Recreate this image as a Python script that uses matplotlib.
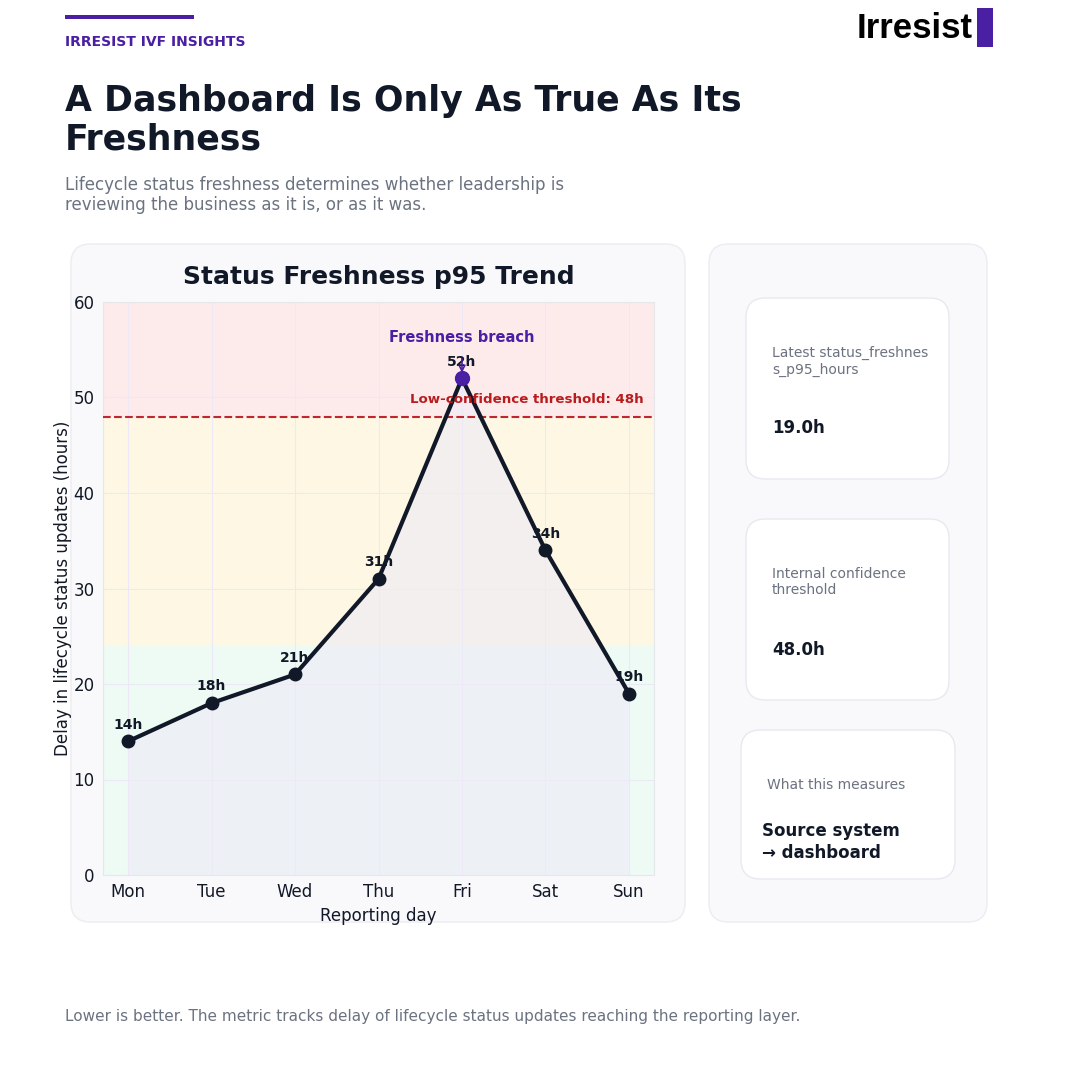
import matplotlib
matplotlib.use("Agg")
import matplotlib.pyplot as plt
from matplotlib.patches import FancyBboxPatch, Rectangle

days = ["Mon", "Tue", "Wed", "Thu", "Fri", "Sat", "Sun"]
hours = [14, 18, 21, 31, 52, 34, 19]
threshold = 48
band_edges = [0, 24, 48, 60]
band_colors = ["#edfbf4", "#fdf7e4", "#fdebec"]

PURPLE = "#4a1fa3"
DARK = "#111827"
GRAY = "#6b7280"

plt.rcParams["font.family"] = ["DejaVu Sans"]

fig = plt.figure(figsize=(10.8, 10.8), dpi=100)
fig.patch.set_facecolor("white")


def px(x, y):
    return x / 1080, 1 - y / 1080


def card(x0, y0, x1, y1, fc, ec, z, r=0.018):
    (a, b), (c, d) = px(x0, y1), px(x1, y0)
    p = FancyBboxPatch((a, b), c - a, d - b, boxstyle=f"round,pad=0,rounding_size={r}",
                       transform=fig.transFigure, fc=fc, ec=ec, lw=1.0, zorder=z)
    fig.patches.append(p)


# header
fig.patches.append(Rectangle(px(65, 19), 129 / 1080, 4 / 1080, transform=fig.transFigure,
                             fc=PURPLE, ec="none"))
fig.text(*px(65, 42), "IRRESIST IVF INSIGHTS", color=PURPLE, fontsize=10,
         fontweight="bold", va="center")
fig.text(*px(973, 28), "Irresist", color="black", fontsize=25, fontweight="bold",
         ha="right", va="center", family="Liberation Sans")
fig.patches.append(Rectangle(px(977, 47), 16 / 1080, 39 / 1080, transform=fig.transFigure,
                             fc=PURPLE, ec="none"))
fig.text(*px(65, 120), "A Dashboard Is Only As True As Its\nFreshness", color=DARK,
         fontsize=25, fontweight="bold", va="center", linespacing=1.15)
fig.text(*px(65, 195), "Lifecycle status freshness determines whether leadership is\n"
         "reviewing the business as it is, or as it was.", color=GRAY, fontsize=12,
         va="center", linespacing=1.1)
fig.text(*px(65, 1016), "Lower is better. The metric tracks delay of lifecycle status updates "
         "reaching the reporting layer.", color=GRAY, fontsize=11, va="center")

# cards
card(71, 244, 685, 922, "#f9f9fb", "#ececf2", -3)
card(709, 244, 987, 922, "#f9f9fb", "#ececf2", -3)
card(746, 298, 949, 479, "white", "#e8e8f0", -2)
card(746, 519, 949, 700, "white", "#e8e8f0", -2)
card(741, 730, 955, 879, "white", "#e8e8f0", -2)

fig.text(*px(772, 361), "Latest status_freshnes\ns_p95_hours", color=GRAY, fontsize=10,
         va="center", linespacing=1.25)
fig.text(*px(772, 428), "19.0h", color=DARK, fontsize=12, fontweight="bold", va="center")
fig.text(*px(772, 582), "Internal confidence\nthreshold", color=GRAY, fontsize=10,
         va="center", linespacing=1.25)
fig.text(*px(772, 650), "48.0h", color=DARK, fontsize=12, fontweight="bold", va="center")
fig.text(*px(767, 785), "What this measures", color=GRAY, fontsize=10, va="center")
fig.text(*px(762, 842), "Source system\n\u2192 dashboard", color=DARK, fontsize=12,
         fontweight="bold", va="center", linespacing=1.3)

# chart
ax = fig.add_axes([103 / 1080, 1 - 875 / 1080, 551 / 1080, 573 / 1080])
ax.set_facecolor("none")
x = list(range(len(days)))
ax.set_xlim(-0.3, len(days) - 0.7)
ax.set_ylim(0, 60)
for lo, hi, c in zip(band_edges[:-1], band_edges[1:], band_colors):
    ax.axhspan(lo, hi, color=c, zorder=0, lw=0)
ax.grid(True, color="#ece8f6", lw=0.8, zorder=1)
ax.set_axisbelow(True)
ax.fill_between(x, hours, 0, color="#eeebf8", alpha=0.6, zorder=2, lw=0)
ax.axhline(threshold, color="#c0262d", ls="--", lw=1.5, zorder=3)
ax.plot(x, hours, color=DARK, lw=3, marker="o", ms=9, zorder=4)
peak = hours.index(max(hours))
ax.plot(x[peak], hours[peak], "o", color=PURPLE, ms=10, zorder=5)
for xi, h in zip(x, hours):
    ax.annotate(f"{h}h", (xi, h), xytext=(0, 7), textcoords="offset points",
                ha="center", va="bottom", fontsize=10, fontweight="bold", color=DARK,
                zorder=6)
ax.annotate("Freshness breach", (x[peak], hours[peak]), xytext=(x[peak], 56.3),
            ha="center", va="center", fontsize=10.5, fontweight="bold", color=PURPLE,
            arrowprops=dict(arrowstyle="->", color=PURPLE, lw=1.2,
                            shrinkA=8, shrinkB=4), zorder=6)
ax.text(6.18, threshold + 1.1, f"Low-confidence threshold: {threshold}h", ha="right",
        va="bottom", fontsize=9.6, fontweight="bold", color="#b91c1c", zorder=6)

ax.set_xticks(x)
ax.set_xticklabels(days)
ax.tick_params(labelsize=12, colors=DARK, length=0, pad=6)
for s in ax.spines.values():
    s.set_color("#e5e7eb")
ax.set_xlabel("Reporting day", fontsize=12, color=DARK, labelpad=4)
ax.set_ylabel("Delay in lifecycle status updates (hours)", fontsize=12, color=DARK,
              labelpad=1)
ax.set_title("Status Freshness p95 Trend", fontsize=18, fontweight="bold", color=DARK,
             pad=13)

fig.savefig("out.png", dpi=100, facecolor="white")
